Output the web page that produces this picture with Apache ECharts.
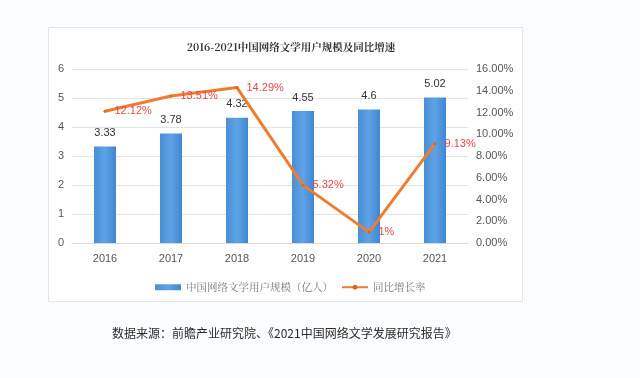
<!DOCTYPE html>
<html><head><meta charset="utf-8">
<script src="https://cdn.jsdelivr.net/npm/echarts@6/dist/echarts.min.js"></script>
<style>html,body{margin:0;padding:0;background:#fbfcfd;}#c{width:640px;height:378px;}</style>
</head><body><div id="c"></div>
<script>
var categories = ['2016','2017','2018','2019','2020','2021'];
var users = [3.33, 3.78, 4.32, 4.55, 4.6, 5.02];
var growth = [12.12, 13.51, 14.29, 5.32, 1, 9.13];
var leftTicks = [0,1,2,3,4,5,6];
var titleText = '2016-2021中国网络文学用户规模及同比增速';
var sourceText = '数据来源：前瞻产业研究院、《2021中国网络文学发展研究报告》';
var serif = '"Noto Serif CJK SC","Noto Sans CJK SC",serif';
var chart = echarts.init(document.getElementById('c'));
chart.setOption({
  backgroundColor: '#fbfcfd',
  graphic: [
    {type:'rect', shape:{x:48.5,y:27.5,width:474,height:274}, style:{fill:'#ffffff', stroke:'#e4e6e9', lineWidth:1}, z:-10},
    {type:'text', left:112, top:327, style:{text:sourceText, font:'12px "Noto Sans CJK SC"', fill:'#2a2a2a'}}
  ],
  title: {text:titleText, left:286, textAlign:'center', top:37, textStyle:{fontFamily:serif, fontSize:10.5, fontWeight:'bold', color:'#333'}},
  legend: {
    top:277, left:150, itemGap:8,
    data:[{name:'中国网络文学用户规模（亿人）', icon:'rect'},{name:'同比增长率'}],
    itemWidth:26, itemHeight:6,
    textStyle:{fontFamily:serif, fontSize:10.5, color:'#777'}
  },
  grid: {left:72, right:172, top:69, bottom:135},
  xAxis: {type:'category', data:categories, axisTick:{show:false},
    axisLine:{lineStyle:{color:'#d9d9d9'}},
    axisLabel:{color:'#555', fontSize:11, margin:10, fontFamily:'Arial'}},
  yAxis: [
    {type:'value', min:0, max:6, interval:1, axisLine:{show:false}, axisTick:{show:false},
     splitLine:{lineStyle:{color:'#e3e3e3'}}, axisLabel:{color:'#555', fontSize:11, margin:8, fontFamily:'Arial'}},
    {type:'value', min:0, max:16, interval:2, axisLine:{show:false}, axisTick:{show:false},
     splitLine:{show:false}, axisLabel:{color:'#555', fontSize:11, margin:8, fontFamily:'Arial', formatter:function(v){return v.toFixed(2)+'%';}}}
  ],
  series: [
    {name:'中国网络文学用户规模（亿人）', type:'bar', data:users, barWidth:22,
     itemStyle:{color:new echarts.graphic.LinearGradient(0,0,1,0,[{offset:0,color:'#4a8fd6'},{offset:0.5,color:'#5fa3e6'},{offset:1,color:'#3f86d2'}])},
     label:{show:true, position:'top', distance:8, color:'#333', fontSize:11, fontFamily:'Arial'}},
    {name:'同比增长率', type:'line', yAxisIndex:1, data:growth, symbol:'circle', symbolSize:3, showSymbol:true,
     lineStyle:{color:'#ed7d31', width:3}, itemStyle:{color:'#d9691f'},
     label:{show:true, position:'right', distance:8, color:'#e8464a', fontSize:11, fontFamily:'Arial', formatter:function(p){return p.value+'%';}},
     emphasis:{disabled:true}}
  ]
});
</script></body></html>
